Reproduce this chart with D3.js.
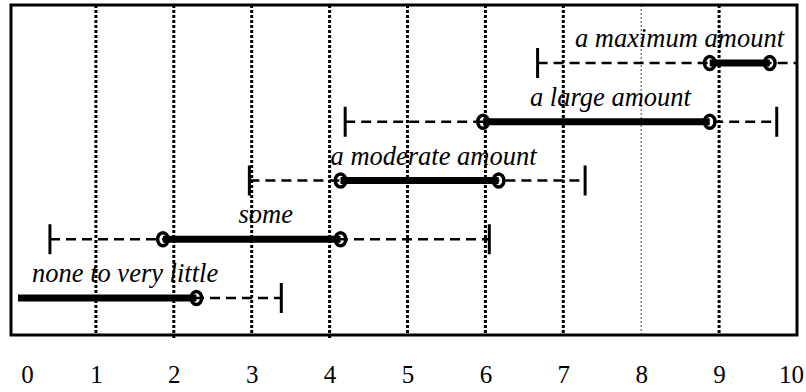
<!DOCTYPE html>
<html>
<head>
<meta charset="utf-8">
<script src="https://cdn.jsdelivr.net/npm/d3@7/dist/d3.min.js"></script>
<style>
  html, body { margin: 0; padding: 0; background: #fff; }
  svg { display: block; }
  svg text { font-family: "Liberation Serif", "Times New Roman", Times, serif; }
</style>
</head>
<body>
<div id="chart"></div>
<script>
// Rating categories, bottom row first
const categories = ["none to very little", "some", "a moderate amount", "a large amount", "a maximum amount"];
// Interval ends per category on the 0–10 scale
const whiskerLow  = [0,    0.41, 2.97, 4.20, 6.67];
const boxLow      = [0,    1.86, 4.14, 5.97, 8.88];
const boxHigh     = [2.29, 4.14, 6.17, 8.88, 9.65];
const whiskerHigh = [3.38, 6.05, 7.28, 9.74, 10];
// Axis ticks
const tickValues = [0, 1, 2, 3, 4, 5, 6, 7, 8, 9, 10];

const width = 806, height = 392;
const frame = { left: 11, right: 797, top: 5, bottom: 335 };

const rows = categories.map((c, i) => ({
  cat: c, wl: whiskerLow[i], bl: boxLow[i], bh: boxHigh[i], wh: whiskerHigh[i]
}));

const svg = d3.select("#chart").append("svg")
  .attr("width", width).attr("height", height);

const x = d3.scaleLinear().domain([0, 10]).range([18, 797]);
const y = d3.scalePoint().domain(categories.slice().reverse()).range([63, 298]);

// Dotted vertical grid lines
svg.append("g").selectAll("line")
  .data(tickValues.filter(v => v > 0 && v < 10))
  .join("line")
  .attr("x1", d => x(d)).attr("x2", d => x(d))
  .attr("y1", frame.top).attr("y2", d => (d === 2 || d === 4) ? frame.bottom + 5 : frame.bottom)
  .attr("stroke", d => d === 8 ? "#666" : "#000")
  .attr("stroke-width", d => d === 8 ? 1.2 : 3)
  .attr("stroke-dasharray", d => d === 8 ? "2,2" : "3,2");

// Frame
svg.append("rect")
  .attr("x", frame.left).attr("y", frame.top)
  .attr("width", frame.right - frame.left).attr("height", frame.bottom - frame.top)
  .attr("fill", "none").attr("stroke", "#000").attr("stroke-width", 3);

// Tick labels below the frame; the end labels sit a little inward
const axis = d3.axisBottom(x).tickValues(tickValues).tickSize(0).tickPadding(0).tickFormat(d3.format("d"));
const ax = svg.append("g").attr("transform", `translate(0,${frame.bottom})`).call(axis);
ax.select(".domain").remove();
ax.attr("font-family", null);
ax.selectAll("text")
  .attr("dy", 0).attr("y", 48)
  .attr("dx", d => d === 0 ? 9 : d === 10 ? -6 : 0)
  .attr("font-size", 25).attr("fill", "#000");

const g = svg.append("g");

// Dashed whiskers
g.selectAll("line.whisker")
  .data(rows).join("line").attr("class", "whisker")
  .attr("x1", d => x(d.wl)).attr("x2", d => x(d.wh))
  .attr("y1", d => y(d.cat)).attr("y2", d => y(d.cat))
  .attr("stroke", "#000").attr("stroke-width", 2.6)
  .attr("stroke-dasharray", "10,6");

// Whisker end ticks
const ends = [];
rows.forEach(d => {
  if (d.wl > 0 && d.wl < d.bl) ends.push({ v: d.wl, cat: d.cat });
  if (d.wh < 10 && d.wh > d.bh) ends.push({ v: d.wh, cat: d.cat });
});
g.selectAll("line.end")
  .data(ends).join("line").attr("class", "end")
  .attr("x1", d => x(d.v)).attr("x2", d => x(d.v))
  .attr("y1", d => y(d.cat) - 15).attr("y2", d => y(d.cat) + 15)
  .attr("stroke", "#000").attr("stroke-width", 3);

// Thick central segments
g.selectAll("line.box")
  .data(rows).join("line").attr("class", "box")
  .attr("x1", d => Math.max(x(d.bl), frame.left)).attr("x2", d => x(d.bh))
  .attr("y1", d => y(d.cat)).attr("y2", d => y(d.cat))
  .attr("stroke", "#000").attr("stroke-width", 7);

// Open ring markers at the segment ends
const marks = [];
rows.forEach(d => {
  if (d.bl > 0) marks.push({ v: d.bl, cat: d.cat });
  marks.push({ v: d.bh, cat: d.cat });
});
g.selectAll("ellipse")
  .data(marks).join("ellipse")
  .attr("cx", d => x(d.v)).attr("cy", d => y(d.cat))
  .attr("rx", 5.3).attr("ry", 6.5)
  .attr("fill", "none").attr("stroke", "#000").attr("stroke-width", 3.5);

// Category labels, placed just right of the segment centre and kept inside the frame
const labels = g.selectAll("text.cat")
  .data(rows).join("text").attr("class", "cat")
  .attr("font-style", "italic").attr("font-size", 26.5)
  .attr("fill", "#000")
  .attr("text-anchor", "middle")
  .attr("y", d => y(d.cat) - 16)
  .text(d => d.cat);
labels.each(function(d) {
  const w = this.getComputedTextLength();
  let cx = (x(Math.max(d.bl, 0)) + x(d.bh)) / 2 + 14;
  cx = Math.min(cx, frame.right - 13 - w / 2);
  cx = Math.max(cx, frame.left + 21 + w / 2);
  d3.select(this).attr("x", cx);
});
</script>
</body>
</html>
